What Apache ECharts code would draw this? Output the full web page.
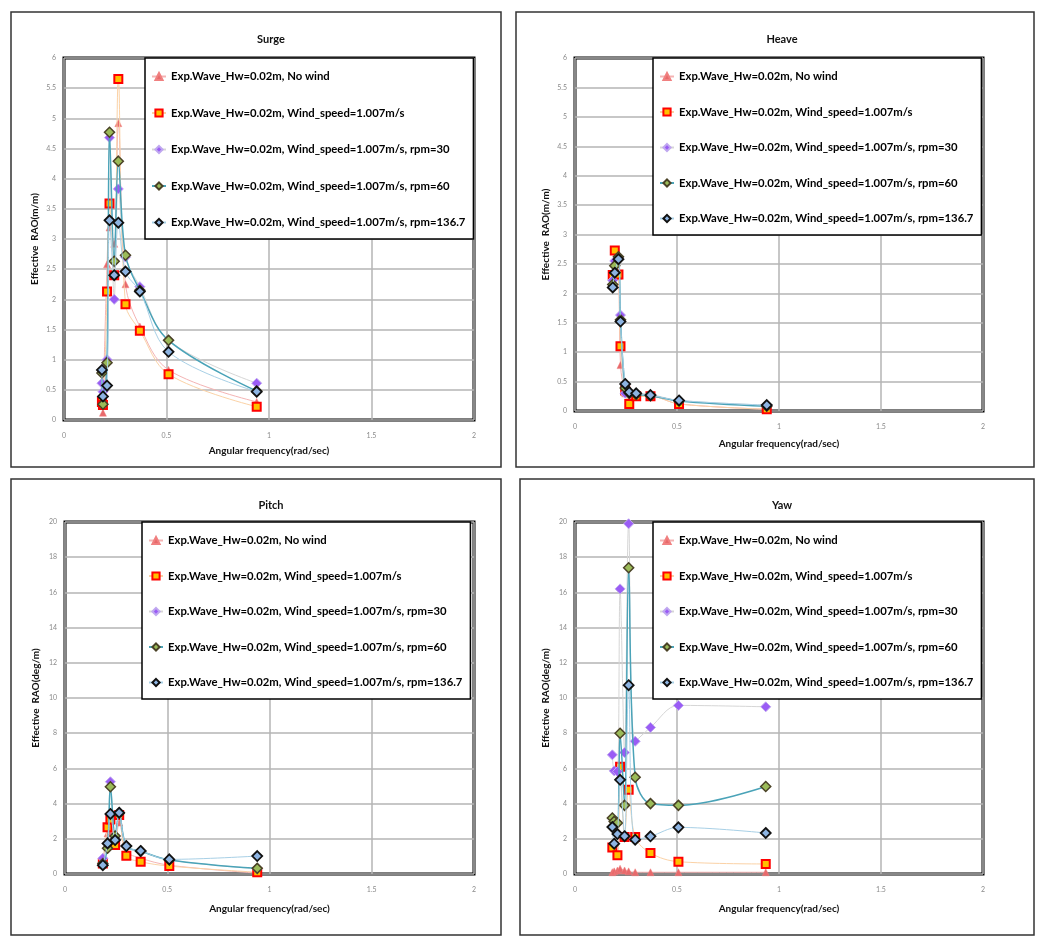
<!DOCTYPE html>
<html>
<head>
<meta charset="utf-8">
<script src="https://cdn.jsdelivr.net/npm/echarts@6.0.0/dist/echarts.min.js"></script>
<style>
  html, body { margin: 0; padding: 0; background: #fff; }
  #chart { width: 1046px; height: 944px; }
</style>
</head>
<body>
<div id="chart"></div>
<script>
// ---------- DATA ----------
const seriesNames = [
  'Exp.Wave_Hw=0.02m, No wind',
  'Exp.Wave_Hw=0.02m, Wind_speed=1.007m/s',
  'Exp.Wave_Hw=0.02m, Wind_speed=1.007m/s, rpm=30',
  'Exp.Wave_Hw=0.02m, Wind_speed=1.007m/s, rpm=60',
  'Exp.Wave_Hw=0.02m, Wind_speed=1.007m/s, rpm=136.7'
];
const panelTitles = ['Surge', 'Heave', 'Pitch', 'Yaw'];
const yAxisNames = ['Effective  RAO(m/m)', 'Effective  RAO(m/m)', 'Effective  RAO(deg/m)', 'Effective  RAO(deg/m)'];
const xAxisName = 'Angular frequency(rad/sec)';
const xTicks = [0, 0.5, 1, 1.5, 2];

// Surge
const surgeFreq     = [0.185, 0.19, 0.21, 0.222, 0.245, 0.265, 0.30, 0.37, 0.51, 0.94];
const surgeNoWind   = [null, 0.12, 2.58, 3.19, 2.92, 4.92, 2.25, 1.55, 0.83, 0.30];
const surgeWind     = [0.30, 0.25, 2.13, 3.59, 2.40, 5.65, 1.92, 1.48, 0.76, 0.22];
const surgeRpm30    = [0.61, 0.47, 1.00, 4.68, 2.00, 3.83, 2.70, 2.21, 1.32, 0.61];
const surgeRpm60    = [0.78, 0.26, 0.95, 4.77, 2.63, 4.29, 2.73, 2.15, 1.32, 0.48];
const surgeRpm137   = [0.83, 0.39, 0.57, 3.31, 2.40, 3.27, 2.46, 2.13, 1.13, 0.47];

// Heave
const heaveFreq     = [0.185, 0.195, 0.213, 0.223, 0.246, 0.266, 0.30, 0.37, 0.51, 0.94];
const heaveNoWind   = [2.20, 2.50, 2.30, 0.78, 0.30, 0.20, 0.25, 0.25, 0.12, 0.03];
const heaveWind     = [2.31, 2.73, 2.32, 1.10, 0.35, 0.12, 0.25, 0.25, 0.12, 0.03];
const heaveRpm30    = [2.22, 2.55, 2.60, 1.63, 0.30, 0.32, 0.30, 0.28, 0.18, 0.10];
const heaveRpm60    = [2.15, 2.47, 2.62, 1.55, 0.39, 0.30, 0.28, 0.26, 0.17, 0.08];
const heaveRpm137   = [2.10, 2.35, 2.58, 1.52, 0.46, 0.32, 0.30, 0.27, 0.18, 0.10];

// Pitch
const pitchFreq     = [0.185, 0.208, 0.222, 0.245, 0.265, 0.30, 0.37, 0.51, 0.94];
const pitchNoWind   = [0.60, 2.30, 2.35, 2.00, 2.92, 1.30, 0.90, 0.50, 0.05];
const pitchWind     = [0.60, 2.65, 3.10, 1.65, 3.35, 1.04, 0.70, 0.45, 0.10];
const pitchRpm30    = [0.89, 1.74, 5.24, 2.10, 3.50, 1.60, 1.30, 0.80, 0.30];
const pitchRpm60    = [0.60, 1.46, 4.96, 2.16, 3.45, 1.59, 1.30, 0.80, 0.32];
const pitchRpm137   = [0.50, 1.74, 3.41, 1.93, 3.48, 1.59, 1.31, 0.83, 1.02];

// Yaw
const yawFreq       = [0.183, 0.192, 0.208, 0.221, 0.243, 0.263, 0.295, 0.37, 0.507, 0.935];
const yawNoWind     = [0.10, 0.15, 0.20, 0.30, 0.20, 0.15, 0.10, 0.10, 0.10, 0.10];
const yawWind       = [1.51, null, 1.06, 6.10, 2.10, 4.78, 2.10, 1.19, 0.70, 0.57];
const yawRpm30      = [6.77, 5.86, 5.82, 16.2, 6.90, 19.9, 7.54, 8.33, 9.58, 9.50];
const yawRpm60      = [3.18, 2.99, 2.90, 8.00, 3.90, 17.4, 5.50, 4.00, 3.90, 4.97];
const yawRpm137     = [2.67, 1.72, 2.27, 5.35, 2.15, 10.73, 1.95, 2.14, 2.65, 2.33];

// ---------- STYLE / LAYOUT ----------
const panels = [
  { freq: surgeFreq, vals: [surgeNoWind, surgeWind, surgeRpm30, surgeRpm60, surgeRpm137], yMax: 6, yInt: 0.5,
    grid: { left: 64, top: 58, width: 410, height: 362 }, legend: { left: 145, top: 58 }, gap: 25.5,
    box: [11, 12, 490, 455], titlePos: [266, 29], xGap: 26 },
  { freq: heaveFreq, vals: [heaveNoWind, heaveWind, heaveRpm30, heaveRpm60, heaveRpm137], yMax: 6, yInt: 0.5,
    grid: { left: 575, top: 58, width: 408, height: 353 }, legend: { left: 653, top: 58 }, gap: 24.5,
    box: [516, 12, 518, 455], titlePos: [777, 29], xGap: 28 },
  { freq: pitchFreq, vals: [pitchNoWind, pitchWind, pitchRpm30, pitchRpm60, pitchRpm137], yMax: 20, yInt: 2,
    grid: { left: 65, top: 522, width: 409, height: 352 }, legend: { left: 142, top: 522 }, gap: 24.5,
    box: [11, 479, 490, 456], titlePos: [266, 495], xGap: 30 },
  { freq: yawFreq, vals: [yawNoWind, yawWind, yawRpm30, yawRpm60, yawRpm137], yMax: 20, yInt: 2,
    grid: { left: 575, top: 522, width: 408, height: 352 }, legend: { left: 653, top: 522 }, gap: 24.5,
    box: [520, 479, 514, 456], titlePos: [777, 495], xGap: 30 }
];

const symbols = ['triangle', 'rect', 'diamond', 'diamond', 'diamond'];
const symbolSizes = [7, 8, 10, 10, 10];
const itemStyles = [
  { color: '#e8696b', borderColor: '#f08080', borderWidth: 0.5 },
  { color: '#ffc000', borderColor: '#ff0000', borderWidth: 2 },
  { color: '#9a5cf5', borderColor: '#c0a8f0', borderWidth: 1 },
  { color: '#9bbb59', borderColor: '#4a4226', borderWidth: 1.5 },
  { color: '#8db4e2', borderColor: '#111111', borderWidth: 1.8 }
];
const lineStyles = [
  { color: '#f4b4b4', width: 1 },
  { color: '#fbd2a6', width: 1 },
  { color: '#d6d6d6', width: 1 },
  { color: '#4aa3b8', width: 1.5 },
  { color: '#a8d0e6', width: 1 }
];

const FONT = 'Lato, "Liberation Sans", sans-serif';

const grids = [], xAxes = [], yAxes = [], series = [], legends = [], titles = [], graphics = [];

panels.forEach((p, i) => {
  graphics.push({
    type: 'rect', silent: true, z: -10,
    shape: { x: p.box[0], y: p.box[1], width: p.box[2], height: p.box[3] },
    style: { fill: 'transparent', stroke: '#333', lineWidth: 1.5 }
  });
  titles.push({
    text: panelTitles[i], left: p.titlePos[0], top: p.titlePos[1], textAlign: 'center',
    textStyle: { fontFamily: FONT, fontWeight: 'bold', fontSize: 11, color: '#111' }
  });
  grids.push({
    left: p.grid.left, top: p.grid.top, width: p.grid.width, height: p.grid.height,
    show: true, borderColor: '#000', borderWidth: 3
  });
  xAxes.push({
    type: 'value', gridIndex: i, min: xTicks[0], max: xTicks[xTicks.length - 1], interval: 0.5,
    name: xAxisName, nameLocation: 'middle', nameGap: p.xGap,
    nameTextStyle: { fontFamily: FONT, fontWeight: 'bold', fontSize: 10, color: '#111' },
    axisLine: { show: false }, axisTick: { show: false },
    axisLabel: { fontSize: 7, color: '#8a8a8a', margin: 12, fontFamily: FONT },
    splitLine: { show: true, lineStyle: { color: '#b5b5b5', width: 1.5 } }
  });
  yAxes.push({
    type: 'value', gridIndex: i, min: 0, max: p.yMax, interval: p.yInt,
    name: yAxisNames[i], nameLocation: 'middle', nameGap: 24, nameRotate: 90,
    nameTextStyle: { fontFamily: FONT, fontWeight: 'bold', fontSize: 10, color: '#111' },
    axisLine: { show: false }, axisTick: { show: false },
    axisLabel: { fontSize: 7, color: '#8a8a8a', margin: 8, fontFamily: FONT },
    splitLine: { show: true, lineStyle: { color: '#b5b5b5', width: 1.5 } }
  });
  legends.push({
    left: p.legend.left, top: p.legend.top, orient: 'vertical',
    data: seriesNames, itemWidth: 14, itemHeight: 9, itemGap: p.gap,
    padding: [13, 8, 11, 6], backgroundColor: '#fff', borderColor: '#000', borderWidth: 1.5,
    selectedMode: false, z: 10,
    textStyle: { fontFamily: FONT, fontWeight: 'bold', fontSize: 11.3, color: '#000' }
  });
  seriesNames.forEach((n, k) => {
    series.push({
      type: 'line', name: n, xAxisIndex: i, yAxisIndex: i,
      smooth: 0.35, symbol: symbols[k], symbolSize: symbolSizes[k],
      itemStyle: itemStyles[k], lineStyle: lineStyles[k],
      data: p.freq.map((f, j) => [f, p.vals[k][j]]).filter(d => d[1] !== null),
      emphasis: { disabled: true }, z: 3 + k, clip: false
    });
  });
});

const chart = echarts.init(document.getElementById('chart'), null, { renderer: 'canvas' });
chart.setOption({
  animation: false,
  backgroundColor: '#fff',
  title: titles,
  graphic: graphics,
  grid: grids,
  xAxis: xAxes,
  yAxis: yAxes,
  legend: legends,
  series: series
});
</script>
</body>
</html>
